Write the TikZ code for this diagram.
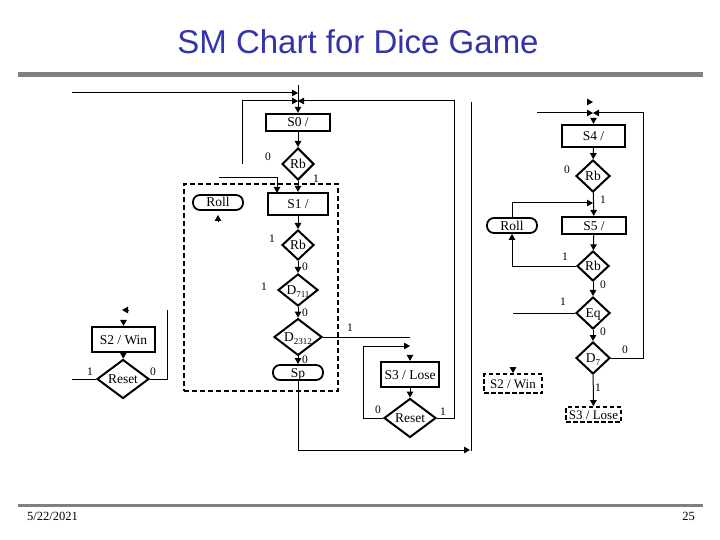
\documentclass[tikz,border=0pt]{standalone}
\usepackage{fontspec}
\setmainfont{Liberation Serif}
\newfontfamily\titlefont{Liberation Sans}
\usetikzlibrary{shapes.geometric,arrows.meta}
\definecolor{titleblue}{RGB}{51,51,170}
\definecolor{bargray}{RGB}{128,128,128}
\newcommand\lowsub[1]{\raisebox{-0.45ex}{\fontsize{9}{9}\selectfont #1}}
\begin{document}
\begin{tikzpicture}[x=1pt,y=-1pt,
  >={Triangle[length=6pt,width=6.5pt]},
  line/.style={line width=1pt},
  flow/.style={line width=1pt,->},
  chartfont/.style={font=\fontsize{13.5}{13.5}\selectfont,text height=9pt,text depth=0pt},
  statebox/.style={draw,line width=2.3pt,inner sep=0pt,chartfont},
  dashbox/.style={draw,line width=1.7pt,dash pattern=on 4.5pt off 2.5pt,inner sep=0pt,font=\fontsize{13}{13}\selectfont,text height=9pt,text depth=0pt},
  condbox/.style={draw,line width=1.8pt,rounded corners=7pt,inner sep=0pt,chartfont},
  dec/.style={diamond,draw,line width=2pt,inner sep=0pt,chartfont},
  groupbox/.style={draw,line width=1.3pt,dash pattern=on 5pt off 3pt,inner sep=0pt},
  lbl/.style={font=\fontsize{11.5}{11.5}\selectfont,inner sep=0pt}]
\useasboundingbox (0,0) rectangle (720,540);

% slide decorations
\node[font=\titlefont\fontsize{33}{33}\selectfont,text=titleblue] (title) at (358,42) {SM Chart for Dice Game};
\draw[bargray,line width=5pt] (18,75) -- (703,75);
\draw[bargray,line width=3pt] (18,505) -- (703,505);
\node[font=\fontsize{12.5}{12.5}\selectfont,anchor=west,inner sep=0pt] (date) at (27,516) {5/22/2021};
\node[font=\fontsize{12.5}{12.5}\selectfont,anchor=east,inner sep=0pt] (page) at (695,516) {25};

% left column
\node[groupbox,minimum width=154pt,minimum height=207pt] (grp) at (261,287.5) {};
\node[statebox,minimum width=64pt,minimum height=17pt] (s0) at (298,122.5) {S0 /};
\node[dec,minimum width=32pt,minimum height=32pt] (rb1) at (298,164) {Rb};
\node[statebox,minimum width=60pt,minimum height=22pt] (s1) at (298,204) {S1 /};
\node[condbox,minimum width=50pt,minimum height=15pt] (roll1) at (218,202.5) {Roll};
\node[dec,minimum width=32pt,minimum height=30pt] (rb2) at (298,245) {Rb};
\node[dec,minimum width=40pt,minimum height=32pt] (d711) at (298,290) {D\lowsub{711}};
\node[dec,minimum width=48pt,minimum height=31pt] (d2312) at (298,337) {D\lowsub{2312}};
\node[condbox,minimum width=50pt,minimum height=15pt] (sp) at (298,372.5) {Sp};
\node[statebox,minimum width=63pt,minimum height=25pt] (s2) at (123.5,339.5) {S2 / Win};
\node[dec,minimum width=52pt,minimum height=34pt] (rs2) at (123,379) {Reset};
\node[statebox,minimum width=58pt,minimum height=25pt] (s3) at (410,374.5) {S3 / Lose};
\node[dec,minimum width=52pt,minimum height=35pt] (rs3) at (410,418) {Reset};

% right column
\node[statebox,minimum width=63pt,minimum height=22pt] (s4) at (593.5,136) {S4 /};
\node[dec,minimum width=34pt,minimum height=32pt] (rb3) at (593,176) {Rb};
\node[statebox,minimum width=64pt,minimum height=17pt] (s5) at (594,225.5) {S5 /};
\node[condbox,minimum width=50pt,minimum height=15pt] (roll2) at (512,225.5) {Roll};
\node[dec,minimum width=32pt,minimum height=30pt] (rb4) at (593,266) {Rb};
\node[dec,minimum width=34pt,minimum height=32pt] (eq) at (593,313) {Eq};
\node[dec,minimum width=34pt,minimum height=32pt] (d7) at (593,358) {D\lowsub{7}};
\node[dashbox,minimum width=58pt,minimum height=19pt] (s2b) at (513,383.5) {S2 / Win};
\node[dashbox,minimum width=55pt,minimum height=15pt] (s3b) at (593.5,414.5) {S3 / Lose};

% coordinates for free ends
\coordinate (inTop) at (72,93);
\coordinate (jTop) at (298,93);
\coordinate (topV) at (298,85);
\coordinate (jMid) at (298,101);
\coordinate (loopL) at (242,164);
\coordinate (rtR) at (454,418);
\coordinate (stub1) at (219,178);
\coordinate (s1in) at (277,193);
\coordinate (roll1tip) at (218,215);
\coordinate (d23R) at (410,337);
\coordinate (spDown) at (298,450);
\coordinate (pageR) at (470,450);
\coordinate (vTopR) at (471,102);
\coordinate (vBotR) at (471,451);
\coordinate (loopS3L) at (363,418);
\coordinate (loopS3T) at (410,346);
\coordinate (s2arrL) at (122,310);
\coordinate (rs2L) at (72,379);
\coordinate (rs2R) at (167,379);
\coordinate (rs2RT) at (167,310);
\coordinate (s4pre) at (593,102);
\coordinate (r4in) at (537,113);
\coordinate (r4j) at (593,113);
\coordinate (d7R) at (643,358);
\coordinate (rollJ) at (593,203);
\coordinate (eqL) at (513,313);

% left connectors
\draw[flow] (inTop) -- (jTop);
\draw[flow] (topV) -- (s0.north);
\draw[flow] (loopL) |- (jMid);
\draw[flow] (rs3.east) -- (rtR) |- (jMid);
\draw[flow] (s0) -- (rb1);
\draw[flow] (rb1) -- (s1);
\draw[flow] (stub1) -| (s1in);
\draw[flow] ([yshift=-6pt]roll1tip) -- (roll1tip);
\draw[flow] (s1) -- (rb2);
\draw[flow] (rb2) -- (d711);
\draw[flow] (d711) -- (d2312);
\draw[flow] (d2312) -- (sp);
\draw[line] (d2312.east) -- (d23R);
\draw[flow] (sp.south) -- (spDown) -- (pageR);
\draw[line] (vTopR) -- (vBotR);
\draw[flow] (rs3.west) -- (loopS3L) |- (loopS3T);
\draw[flow] ([yshift=6pt]s3.north) -- (s3.north);
\draw[flow] (s3) -- (rs3);
\draw[flow] ([xshift=6pt]s2arrL) -- (s2arrL);
\draw[flow] ([yshift=6pt]s2.north) -- (s2.north);
\draw[flow] (s2) -- (rs2);
\draw[line] (rs2.west) -- (rs2L);
\draw[line] (rs2.east) -- (rs2R) -- (rs2RT);

% right connectors
\draw[flow] ([xshift=-6pt]s4pre) -- (s4pre);
\draw[flow] (r4in) -- (r4j);
\draw[flow] (d7.east) -- (d7R) |- (r4j);
\draw[flow] ([yshift=6pt]s4.north) -- (s4.north);
\draw[flow] (s4) -- (rb3);
\draw[flow] (rb3) -- (s5);
\draw[flow] (roll2.north) |- (rollJ);
\draw[flow] (rb4.west) -| (roll2.south);
\draw[flow] (s5) -- (rb4);
\draw[flow] (rb4) -- (eq);
\draw[line] (eq.west) -- (eqL);
\draw[flow] (eq) -- (d7);
\draw[flow] (d7) -- (s3b);
\draw[flow] ([yshift=6pt]s2b.north) -- (s2b.north);

% branch labels
\node[lbl] (l1) at (268,157) {0};
\node[lbl] (l2) at (316,179) {1};
\node[lbl] (l3) at (272,239) {1};
\node[lbl] (l4) at (305,267) {0};
\node[lbl] (l5) at (264,287) {1};
\node[lbl] (l6) at (305,313) {0};
\node[lbl] (l7) at (350,328) {1};
\node[lbl] (l8) at (305,360) {0};
\node[lbl] (l9) at (90,372) {1};
\node[lbl] (l10) at (153,372) {0};
\node[lbl] (l11) at (378,410) {0};
\node[lbl] (l12) at (443,412) {1};
\node[lbl] (l13) at (567,170) {0};
\node[lbl] (l14) at (603,200) {1};
\node[lbl] (l15) at (565,257) {1};
\node[lbl] (l16) at (603,285) {0};
\node[lbl] (l17) at (563,302) {1};
\node[lbl] (l18) at (603,332) {0};
\node[lbl] (l19) at (625,350) {0};
\node[lbl] (l20) at (598,388) {1};
\end{tikzpicture}
\end{document}
